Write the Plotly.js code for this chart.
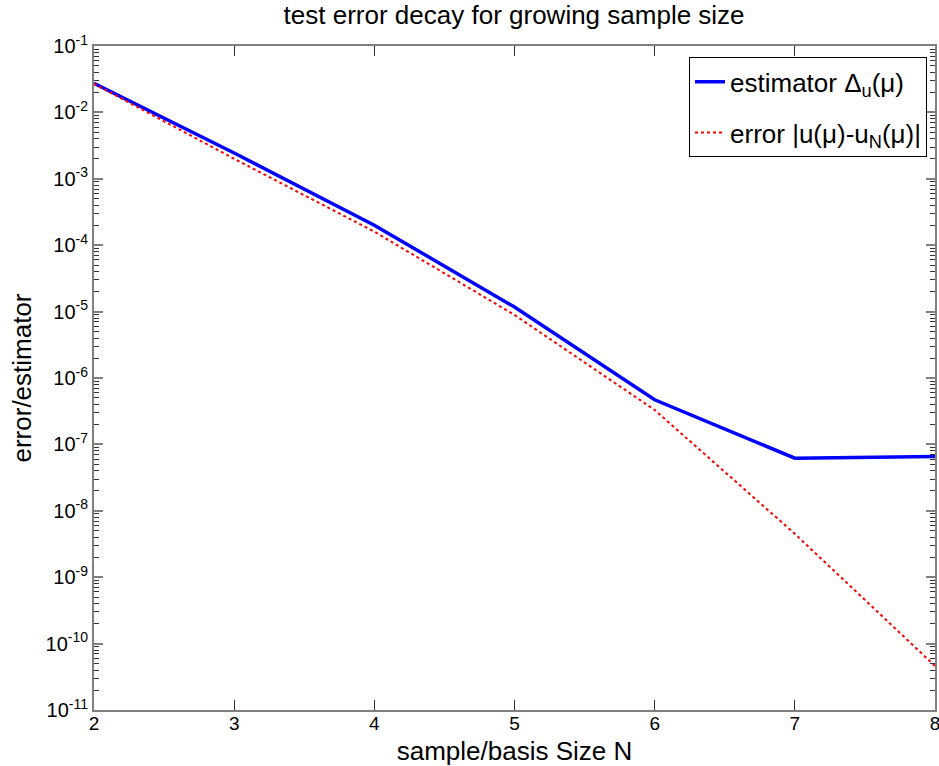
<!DOCTYPE html>
<html><head><meta charset="utf-8">
<script src="https://cdn.plot.ly/plotly-3.0.1.min.js"></script>
<style>body{margin:0;background:#fff}</style>
</head><body>
<div id="chart" style="width:939px;height:766px"></div>
<script>
const sampleSize = [2, 3, 4, 5, 6, 7, 8];
const estimator = [2.75e-2, 2.45e-3, 2.0e-4, 1.17e-5, 4.7e-7, 6.2e-8, 6.6e-8];
const trueError = [2.7e-2, 2.0e-3, 1.6e-4, 8.9e-6, 3.3e-7, 4.5e-9, 4.6e-11];
const yTickExp = [-1, -2, -3, -4, -5, -6, -7, -8, -9, -10, -11];
const xTicks = [2, 3, 4, 5, 6, 7, 8];

const yTickVals = yTickExp.map(e => Math.pow(10, e));
const yTickText = yTickExp.map(e => '10<sup>' + e + '</sup>');
const minorVals = [];
yTickExp.forEach(e => { for (let d = 2; d <= 9; d++) minorVals.push(d * Math.pow(10, e)); });

const font = 'Arial, "Liberation Sans", sans-serif';

const traces = [
  {x: sampleSize, y: estimator, mode: 'lines', name: 'estimator \u0394<sub>u</sub>(\u03bc)',
   legendgroup: 'a', line: {color: '#0000ff', width: 3.5}},
  {x: sampleSize, y: trueError, mode: 'lines', name: 'error |u(\u03bc)-u<sub>N</sub>(\u03bc)|',
   legendgroup: 'b', line: {color: '#ff0000', width: 2, dash: 'dot'}}
];

const layout = {
  width: 939, height: 766,
  margin: {l: 94, r: 4, t: 46, b: 56},
  paper_bgcolor: '#fff', plot_bgcolor: '#fff',
  font: {family: font, color: '#000', size: 20},
  title: {text: 'test error decay for growing sample size', font: {family: font, size: 26, color: '#000'},
          x: 0.5475, xanchor: 'center', y: 0.981, yanchor: 'middle'},
  xaxis: {
    range: [2, 8], tickmode: 'array', tickvals: xTicks, ticktext: xTicks.map(String),
    ticks: 'inside', ticklen: 10, tickwidth: 1, tickcolor: '#333',
    showline: true, linecolor: '#808080', linewidth: 2, mirror: 'ticks',
    showgrid: false, zeroline: false, ticklabeloverflow: 'allow', ticklabelstandoff: -5,
    tickfont: {size: 19, family: font},
    title: {text: 'sample/basis Size N', font: {size: 26, family: font}, standoff: 10}
  },
  yaxis: {
    type: 'log', range: [-11, -1], tickmode: 'array', tickvals: yTickVals, ticktext: yTickText,
    ticks: 'inside', ticklen: 9, tickwidth: 2, tickcolor: '#808080',
    minor: {tickmode: 'array', tickvals: minorVals, ticks: 'inside', ticklen: 5, tickwidth: 1, tickcolor: '#333', showgrid: false},
    showline: true, linecolor: '#808080', linewidth: 2, mirror: 'ticks',
    showgrid: false, zeroline: false, ticklabeloverflow: 'allow',
    tickfont: {size: 20, family: font},
    title: {text: 'error/estimator', font: {size: 26, family: font}, standoff: 6}
  },
  legend: {
    x: 0.9905, xanchor: 'right', y: 0.983, yanchor: 'top',
    bgcolor: '#fff', bordercolor: '#000', borderwidth: 1,
    font: {size: 26, family: font},
    traceorder: 'grouped', tracegroupgap: 14
  },
  showlegend: true
};

Plotly.newPlot('chart', traces, layout, {displayModeBar: false, staticPlot: true});
</script>
</body></html>
